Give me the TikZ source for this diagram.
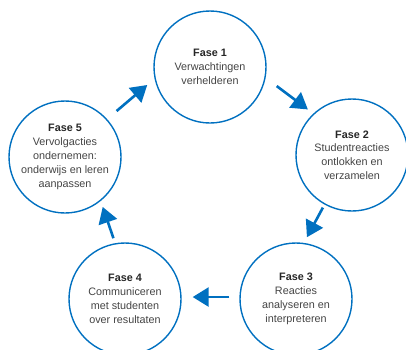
\documentclass[tikz,border=0pt]{standalone}
\usepackage{fontspec}
\setmainfont{Liberation Sans}
\usetikzlibrary{arrows.meta}
\definecolor{faseblue}{RGB}{0,112,192}
\definecolor{fasetext}{RGB}{68,68,68}
\tikzset{
  fase/.style={circle, draw=faseblue, line width=1.4pt, minimum size=112pt,
    inner sep=0pt, align=center, text=fasetext,
    font=\fontsize{10.8}{13.8}\selectfont},
  flow/.style={draw=faseblue, line width=2.6pt,
    -{Triangle[length=16pt,width=19pt]}},
}
\begin{document}
\begin{tikzpicture}[x=1pt,y=1pt]

    \useasboundingbox (0,0) rectangle (406,349);

    % Fase 1 (top)
    \node[fase] (p1) at (210,282) {\textbf{\color{black!85}Fase 1}\\Verwachtingen\\verhelderen};

    % Fase 2 (right)
    \node[fase] (p2) at (352,194) {\textbf{\color{black!85}Fase 2}\\Studentreacties\\ontlokken en\\verzamelen};

    % Fase 3 (bottom right)
    \node[fase] (p3) at (296,50) {\textbf{\color{black!85}Fase 3}\\Reacties\\analyseren en\\interpreteren};

    % Fase 4 (bottom left)
    \node[fase] (p4) at (125,50) {\textbf{\color{black!85}Fase 4}\\Communiceren\\met studenten\\over resultaten};

    % Fase 5 (left)
    \node[fase] (p5) at (65,192) {\textbf{\color{black!85}Fase 5}\\Vervolgacties\\ondernemen:\\onderwijs en leren\\aanpassen};

    % the cycle
    \draw[flow, shorten <=13.8pt, shorten >=6.8pt] (p1.-11) -- (p2.133);
    \draw[flow, shorten <=3.4pt, shorten >=6.4pt] (p2.-119) -- (p3.82);
    \draw[flow, shorten <=10pt, shorten >=11pt] (p3.178) -- (p4.2);
    \draw[flow, shorten <=5.2pt, shorten >=6.2pt] (p4.100) -- (p5.-51);
    \draw[flow, shorten <=12.4pt, shorten >=9.6pt] (p5.42) -- (p1.192);

  \end{tikzpicture}
\end{document}
